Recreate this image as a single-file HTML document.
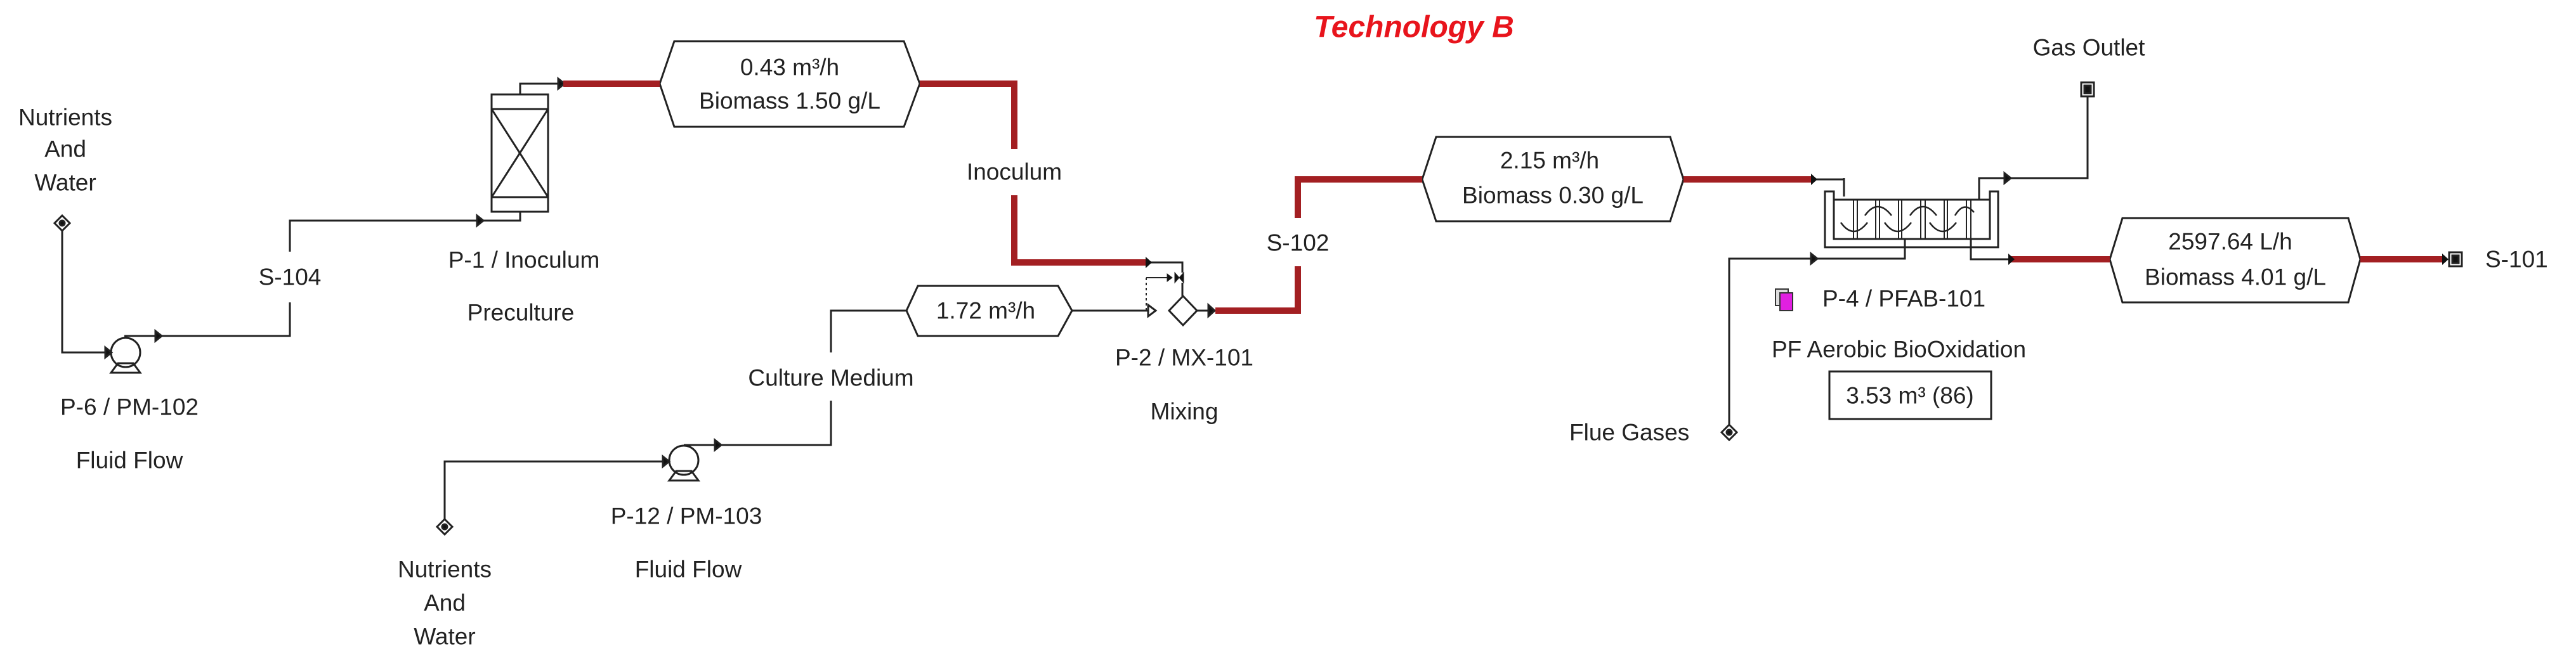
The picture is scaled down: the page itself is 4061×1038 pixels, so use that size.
<!DOCTYPE html>
<html><head><meta charset="utf-8"><style>
html,body{margin:0;padding:0;background:#fff;overflow:hidden;}
svg{display:block;}
text{font-family:"Liberation Sans",Arial,sans-serif;font-size:37px;fill:#222;dominant-baseline:central;}
</style></head><body>
<svg width="4061" height="1038" viewBox="0 0 4061 1038" xmlns="http://www.w3.org/2000/svg">
<g fill="none" stroke="#222" stroke-width="3">
<!-- left feed -->
<path d="M98,364 V556 H168"/>
<path d="M166,548 l10,8 l-10,8 z" fill="#111"/>
<path d="M196,530 H457 V477"/>
<path d="M245,522 l10,8 l-10,8 z" fill="#111"/>
<path d="M457,397 V348 H820 V334"/>
<path d="M752,340 l10,8 l-10,8 z" fill="#111"/>
<!-- pump1 -->
<circle cx="198" cy="556" r="23"/>
<path d="M175,588 L186,573 H210 L221,588 Z"/>
<!-- column -->
<rect x="775" y="149" width="89" height="185"/>
<line x1="775" y1="172" x2="864" y2="172"/>
<line x1="775" y1="311" x2="864" y2="311"/>
<line x1="775" y1="172" x2="864" y2="311"/>
<line x1="864" y1="172" x2="775" y2="311"/>
<path d="M820,149 V132 H880"/>
<path d="M880,124 l10,8 l-10,8 z" fill="#111"/>
<!-- source diamond -->
<path d="M98,340 l12,12 l-12,12 l-12,-12 z"/>
<circle cx="98" cy="352" r="4" fill="#111"/>
<!-- pump2 feed -->
<path d="M701,819 V728 H1045"/>
<path d="M1045,720 l10,8 l-10,8 z" fill="#111"/>
<path d="M701,819 l12,12 l-12,12 l-12,-12 z"/>
<circle cx="701" cy="831" r="4" fill="#111"/>
<circle cx="1078" cy="726" r="23"/>
<path d="M1055,758 L1066,743 H1090 L1101,758 Z"/>
<path d="M1078,702 H1310 V632"/>
<path d="M1127,694 l10,8 l-10,8 z" fill="#111"/>
<path d="M1310,556 V490 H1429"/>
<path d="M1690,490 H1812"/>
<path d="M1810,481 l12,9 l-12,9 z" fill="#fff"/>
<!-- mixer -->
<path d="M1865,467 l22,23 l-22,23 l-22,-23 z"/>
<path d="M1887,490 H1905"/>
<path d="M1905,481 l10,9 l-10,9 z" fill="#111"/>
<path d="M1813,414 H1864 V430"/>
<path d="M1807,438 V490" stroke-dasharray="4,4" stroke-width="2"/>
<path d="M1807,438 H1845" stroke-width="2"/>
<path d="M1840,432 l8,6 l-8,6 z" fill="#111" stroke-width="1"/>
<path d="M1852,430 l14,16 v-16 l-14,16 z" fill="#111" stroke-width="1"/>
<path d="M1864,446 V467"/>
<!-- reactor -->
<path d="M2877,302 V390 H3150 V302 H3137 V377 H2891 V302 Z"/>
<line x1="2891" y1="315" x2="3137" y2="315"/>
<path d="M2922,315 V377 M2928,315 V377 M2957,315 V377 M2963,315 V377 M2993,315 V377 M2998,315 V377 M3028,315 V377 M3035,315 V377 M3065,315 V377 M3070,315 V377 M3100,315 V377 M3107,315 V377" stroke-width="2"/>
<path d="M2902,351 q20,28 42,0 M2971,351 q20,28 42,0 M3042,351 q20,28 42,0" stroke-width="2.5"/>
<path d="M2940,340 q20,-28 42,0 M3011,340 q20,-28 42,0 M3082,340 q14,-24 30,-5" stroke-width="2.5"/>
<path d="M2907,281 V310"/>
<path d="M2660,283 H2907"/>
<path d="M3120,315 V281 H3291 V152"/>
<path d="M3160,273 l10,8 l-10,8 z" fill="#111"/>
<rect x="3281" y="130" width="20" height="22" fill="#fff"/>
<rect x="3286" y="135" width="10" height="12" fill="#111"/>
<path d="M2726,670 V408 H3003 V377"/>
<path d="M2855,400 l10,8 l-10,8 z" fill="#111"/>
<path d="M2714,682 l12,-12 l12,12 l-12,12 z"/>
<circle cx="2726" cy="682" r="4" fill="#111"/>
<path d="M3107,377 V409 H3166"/>
<rect x="3861" y="398" width="20" height="22" fill="#fff"/>
<rect x="3866" y="403" width="10" height="12" fill="#111"/>
<!-- hexagons -->
<path d="M1040,132 L1063,65 H1425 L1450,132 L1425,200 H1063 Z" fill="#fff"/>
<path d="M1429,490 L1447,451 H1668 L1690,490 L1668,530 H1447 Z" fill="#fff"/>
<path d="M2242,283 L2264,216 H2633 L2654,283 L2633,349 H2264 Z" fill="#fff"/>
<path d="M3326,409 L3346,344 H3702 L3721,409 L3702,477 H3346 Z" fill="#fff"/>
<rect x="2884" y="586" width="255" height="75"/>
</g>
<!-- red streams -->
<g fill="none" stroke="#a31f22" stroke-width="10">
<path d="M888,132 H1040"/>
<path d="M1450,132 H1599 V235"/>
<path d="M1599,308 V414 H1806"/>
<path d="M1916,490 H2046 V420"/>
<path d="M2046,344 V283 H2242"/>
<path d="M2654,283 H2855"/>
<path d="M3168,409 H3326"/>
<path d="M3721,409 H3855"/>
</g>
<path d="M1806,405 l10,9 l-10,9 z" fill="#111"/>
<path d="M2855,274 l10,9 l-10,9 z" fill="#111"/>
<path d="M3166,400 l10,9 l-10,9 z" fill="#111"/>
<path d="M3850,400 l10,9 l-10,9 z" fill="#111"/>
<!-- icon -->
<rect x="2799" y="456" width="20" height="26" fill="#ddd" stroke="#333" stroke-width="2"/>
<rect x="2806" y="462" width="20" height="28" fill="#e020e0" stroke="#333" stroke-width="2"/>
<!-- texts -->
<text x="2229" y="43" text-anchor="middle" style="font-size:48px;font-weight:bold;font-style:italic;fill:#e8141c">Technology B</text>
<g text-anchor="middle">
<text x="103" y="185">Nutrients</text><text x="103" y="235">And</text><text x="103" y="288">Water</text>
<text x="457" y="437">S-104</text>
<text x="826" y="410">P-1 / Inoculum</text>
<text x="821" y="493">Preculture</text>
<text x="204" y="642">P-6 / PM-102</text>
<text x="204" y="726">Fluid Flow</text>
<text x="1245" y="106">0.43 m³/h</text>
<text x="1245" y="159">Biomass  1.50 g/L</text>
<text x="1599" y="271">Inoculum</text>
<text x="1310" y="596">Culture Medium</text>
<text x="1554" y="490">1.72 m³/h</text>
<text x="1082" y="814">P-12 / PM-103</text>
<text x="1085" y="898">Fluid Flow</text>
<text x="701" y="898">Nutrients</text><text x="701" y="951">And</text><text x="701" y="1004">Water</text>
<text x="1867" y="564">P-2 / MX-101</text>
<text x="1867" y="649">Mixing</text>
<text x="2046" y="383">S-102</text>
<text x="2443" y="253">2.15 m³/h</text>
<text x="2448" y="308">Biomass   0.30 g/L</text>
<text x="3293" y="75">Gas Outlet</text>
<text x="3516" y="381">2597.64 L/h</text>
<text x="3524" y="437">Biomass  4.01 g/L</text>
<text x="3011" y="624">3.53 m³  (86)</text>
</g>
<text x="2474" y="682">Flue Gases</text>
<text x="2873" y="471">P-4 / PFAB-101</text>
<text x="2793" y="551">PF Aerobic BioOxidation</text>
<text x="3918" y="409">S-101</text>
</svg>
</body></html>
